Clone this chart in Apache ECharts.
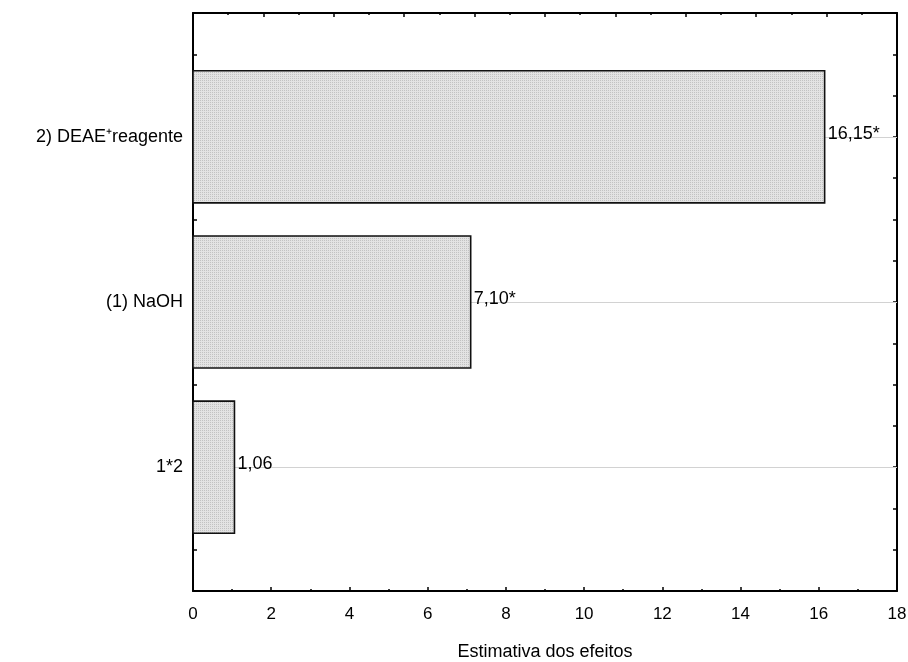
<!DOCTYPE html>
<html>
<head>
<meta charset="utf-8">
<script src="https://cdn.jsdelivr.net/npm/echarts@6/dist/echarts.min.js"></script>
<style>
  html, body { margin: 0; padding: 0; background: #fff; }
  #chart { width: 908px; height: 662px; }
</style>
</head>
<body>
<div id="chart"></div>
<script>
// Effect estimates (bottom to top)
const categories = ['1*2', '(1) NaOH', '2) DEAE\u207Areagente'];
const effects = [1.06, 7.10, 16.15];
const significant = [false, true, true];
const xTicks = [0, 2, 4, 6, 8, 10, 12, 14, 16, 18];

const BAR_HALF = 0.4;
const FONT = '"Liberation Sans", Arial, sans-serif';

function effectLabel(i) {
  return effects[i].toFixed(2).replace('.', ',') + (significant[i] ? '*' : '');
}

// fine dotted fill used for the bars
function dotPattern() {
  const c = document.createElement('canvas');
  c.width = 2; c.height = 2;
  const g = c.getContext('2d');
  g.fillStyle = '#e3e3e3'; g.fillRect(0, 0, 2, 2);
  g.fillStyle = '#c2c2c2'; g.fillRect(0, 0, 1, 1);
  return c;
}
const barFill = { image: dotPattern(), repeat: 'repeat' };

const barData = effects.map((v, i) => [v, i]);

const chart = echarts.init(document.getElementById('chart'), null, { renderer: 'canvas' });

const frameLine = { show: true, onZero: false, lineStyle: { color: '#000', width: 2 } };
const innerTick = { show: true, inside: true, length: 4, lineStyle: { color: '#000', width: 1.5 } };
const innerMinor = { show: true, splitNumber: 2, length: 2, lineStyle: { color: '#000', width: 1.5 } };

chart.setOption({
  animation: false,
  backgroundColor: '#ffffff',
  grid: { left: 193, right: 11, top: 13, bottom: 71, show: false, containLabel: false, outerBoundsMode: 'none' },
  xAxis: [
    {
      type: 'value',
      position: 'bottom',
      min: xTicks[0],
      max: xTicks[xTicks.length - 1],
      interval: 2,
      name: 'Estimativa dos efeitos',
      nameLocation: 'middle',
      nameGap: 52,
      nameTextStyle: { fontFamily: FONT, fontSize: 18, color: '#000' },
      axisLine: frameLine,
      axisTick: innerTick,
      minorTick: innerMinor,
      axisLabel: { fontFamily: FONT, fontSize: 17, color: '#000', margin: 15 },
      splitLine: { show: false }
    },
    {
      type: 'value',
      position: 'top',
      min: 0,
      max: 20,
      interval: 2,
      axisLine: frameLine,
      axisTick: innerTick,
      minorTick: innerMinor,
      axisLabel: { show: false },
      splitLine: { show: false }
    }
  ],
  yAxis: [
    {
      type: 'value',
      position: 'left',
      min: -0.75,
      max: 2.75,
      interval: 0.25,
      axisLine: frameLine,
      axisTick: innerTick,
      axisLabel: {
        fontFamily: FONT, fontSize: 18, color: '#000', margin: 10,
        formatter: function (v) {
          const i = Math.round(v);
          return (Math.abs(v - i) < 1e-6 && categories[i] !== undefined) ? categories[i] : '';
        }
      },
      splitLine: { show: false }
    },
    {
      type: 'value',
      position: 'right',
      min: -0.75,
      max: 2.75,
      interval: 0.25,
      axisLine: frameLine,
      axisTick: innerTick,
      axisLabel: { show: false },
      splitLine: { show: false }
    }
  ],
  series: [
    {
      // faint reference line through each effect row
      type: 'custom',
      z: 1,
      silent: true,
      data: barData,
      renderItem: function (params, api) {
        const y = api.value(1);
        const a = api.coord([0, y]);
        const b = api.coord([xTicks[xTicks.length - 1], y]);
        return {
          type: 'line',
          shape: { x1: a[0], y1: Math.round(a[1]) + 0.5, x2: b[0], y2: Math.round(b[1]) + 0.5 },
          style: { stroke: '#d2d2d2', lineWidth: 1 }
        };
      }
    },
    {
      type: 'custom',
      z: 3,
      silent: true,
      data: barData,
      renderItem: function (params, api) {
        const v = api.value(0);
        const y = api.value(1);
        const p0 = api.coord([0, y - BAR_HALF]);
        const p1 = api.coord([v, y + BAR_HALF]);
        const mid = api.coord([v, y]);
        return {
          type: 'group',
          children: [
            {
              type: 'rect',
              shape: { x: p0[0], y: p1[1], width: p1[0] - p0[0], height: p0[1] - p1[1] },
              style: { fill: barFill, stroke: '#111', lineWidth: 1.6 }
            },
            {
              type: 'text',
              x: mid[0] + 3,
              y: mid[1] - 3,
              style: {
                text: effectLabel(params.dataIndex),
                font: '18px ' + FONT,
                fill: '#000',
                align: 'left',
                verticalAlign: 'middle'
              }
            }
          ]
        };
      }
    }
  ]
});
</script>
</body>
</html>
